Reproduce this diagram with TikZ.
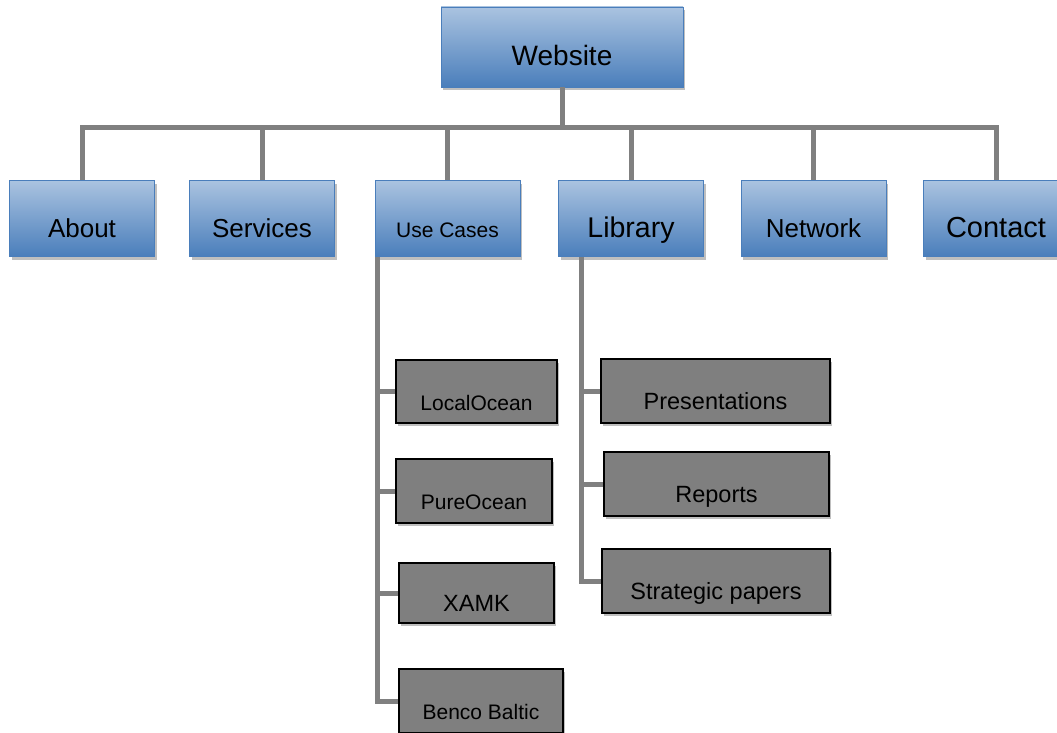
\documentclass[tikz,border=0pt]{standalone}
\usepackage{fontspec}
\setmainfont{Liberation Sans}
\usepackage{tikz}
\usetikzlibrary{calc,positioning,shadows}
\definecolor{boxblue}{HTML}{4A7EBB}
\definecolor{boxtop}{HTML}{AAC3E0}
\definecolor{darkbox}{HTML}{7F7F7F}
\definecolor{linegrey}{HTML}{808080}

\begin{document}
\begin{tikzpicture}[x=1pt,y=-1pt]

\tikzset{bluenode/.style={draw=boxblue,top color=boxtop,bottom color=boxblue,minimum width=145pt,minimum height=76pt,inner sep=0pt,text height=37pt,text depth=0pt,font=\fontsize{26}{30}\selectfont,drop shadow={shadow xshift=2pt,shadow yshift=-3pt,fill=black!25,opacity=1}},
greynode/.style={draw=black,line width=1.2pt,fill=darkbox,minimum height=64pt,inner sep=0pt,text height=37pt,text depth=0pt,font=\fontsize{23.5}{28}\selectfont,drop shadow={shadow xshift=2pt,shadow yshift=-3pt,fill=black!25,opacity=1}},
link/.style={draw=linegrey,line width=5pt}}

\useasboundingbox (0,0) rectangle (1057,733);
\clip (0,0) rectangle (1057,733);

% Top node
\node[bluenode,minimum width=242pt,minimum height=80pt,font=\fontsize{28}{32}\selectfont] (web) at (562,47) {Website};

% Menu nodes
\node[bluenode] (about) at (82,218.5) {About};
\node[bluenode] (serv) at (262,218.5) {Services};
\node[bluenode,font=\fontsize{21}{25}\selectfont] (usec) at (447.5,218.5) {Use Cases};
\node[bluenode,font=\fontsize{28.5}{32}\selectfont] (lib) at (631,218.5) {Library};
\node[bluenode] (net) at (813.5,218.5) {Network};
\node[bluenode,font=\fontsize{29}{33}\selectfont] (cont) at (996,218.5) {Contact};

% Use case nodes
\node[greynode,minimum width=161pt,minimum height=63pt,font=\fontsize{21}{25}\selectfont] (loc) at (476.5,391.5) {LocalOcean};
\node[greynode,minimum width=156pt,font=\fontsize{21}{25}\selectfont] (pure) at (474,491) {PureOcean};
\node[greynode,minimum width=155pt,minimum height=60pt] (xamk) at (476.5,593) {XAMK};
\node[greynode,minimum width=164pt,font=\fontsize{21}{25}\selectfont] (benco) at (481,701) {Benco Baltic};

% Library nodes
\node[greynode,minimum width=229pt] (pres) at (715.5,391) {Presentations};
\node[greynode,minimum width=225pt] (rep) at (716.5,484) {Reports};
\node[greynode,minimum width=228pt] (strat) at (716,581) {Strategic papers};

% Edges
\coordinate (bus) at (562,128);
\draw[link] (web.south) -- (bus);
\draw[link] (about.north) |- (bus) -| (cont.north);
\foreach \n in {serv,usec,lib,net} \draw[link] (\n.north) -- (\n.north |- bus);

\coordinate (usecleg) at ($(usec.south west)+(3,0)$);
\draw[link] (usecleg) |- (benco.west);
\foreach \n in {loc,pure,xamk} \draw[link] (\n.west -| usecleg) -- (\n.west);

\coordinate (libleg) at ($(lib.south west)+(23,0)$);
\draw[link] (libleg) |- (strat.west);
\foreach \n in {pres,rep} \draw[link] (\n.west -| libleg) -- (\n.west);

\end{tikzpicture}
\end{document}
